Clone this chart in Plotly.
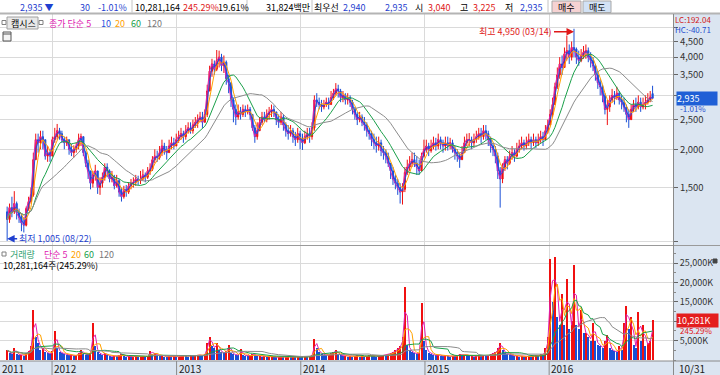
import numpy as np
import pandas as pd
import plotly.graph_objects as go

# ---------------- data (weekly candles) ----------------
first_week = "2011-08-22"

opens = [
    1250, 1180, 1290, 1250, 1330, 1240, 1200, 1150, 1130, 1280,
    1350, 1420, 1850, 2150, 2100, 2200, 2150, 1900, 1950, 1900,
    2150, 2200, 2300, 2250, 2150, 2100, 2150, 2000, 1950, 2000,
    2050, 2150, 2200, 1950, 1800, 1700, 1550, 1650, 1700, 1500,
    1550, 1620, 1750, 1700, 1600, 1620, 1520, 1580, 1450, 1400,
    1480, 1450, 1520, 1550, 1560, 1600, 1580, 1600, 1650, 1620,
    1700, 1720, 1850, 1900, 1880, 1950, 2050, 1980, 1950, 2050,
    2100, 2050, 2150, 2200, 2250, 2200, 2300, 2350, 2300, 2400,
    2450, 2500, 2550, 2450, 2600, 3100, 3600, 3800, 3650, 3900,
    4000, 3750, 3850, 3400, 3300, 2900, 2700, 2550, 2650, 2600,
    2700, 2650, 2700, 2600, 2350, 2200, 2300, 2450, 2550, 2500,
    2600, 2650, 2700, 2650, 2500, 2450, 2550, 2400, 2300, 2250,
    2300, 2200, 2150, 2250, 2150, 2100, 2200, 2250, 2200, 2350,
    2900, 2850, 2800, 2750, 2800, 2850, 2800, 2950, 3050, 3150,
    3100, 2950, 3000, 2900, 2950, 2850, 2700, 2600, 2500, 2550,
    2450, 2400, 2300, 2250, 2150, 2100, 2050, 2100, 1980, 1950,
    1900, 1800, 1700, 1600, 1550, 1500, 1450, 1480, 1680, 1750,
    1800, 1850, 1800, 1750, 1700, 1900, 2000, 2050, 1980, 2050,
    2100, 2050, 2150, 2100, 2050, 2100, 2050, 2100, 2000, 1950,
    1900, 1850, 1950, 2100, 2150, 2150, 2100, 2150, 2200, 2250,
    2200, 2300, 2250, 2150, 2050, 2000, 1900, 1700, 1600, 1750,
    1850, 1800, 1900, 1950, 1900, 2000, 2050, 2100, 2050, 2100,
    2150, 2100, 2150, 2100, 2150, 2200, 2150, 2300, 2400, 2600,
    2800, 3200, 3500, 3800, 3700, 4100, 4200, 4000, 4300, 4250,
    4000, 3900, 4050, 4150, 4200, 4000, 3900, 3750, 3500, 3300,
    3200, 3000, 2700, 2750, 2900, 3000, 2950, 3050, 2900, 2850,
    2750, 2600, 2500, 2700, 2800, 2750, 2850, 2750, 2800, 2850,
    2900, 3040,
]

highs = [
    1300, 1330, 1400, 1460, 1350, 1280, 1230, 1200, 1300, 1400,
    1500, 1950, 2250, 2250, 2300, 2300, 2150, 2050, 2000, 2200,
    2350, 2420, 2350, 2300, 2200, 2200, 2150, 2080, 2060, 2100,
    2250, 2250, 2200, 1980, 1850, 1700, 1700, 1780, 1700, 1620,
    1680, 1800, 1800, 1720, 1700, 1650, 1650, 1600, 1500, 1520,
    1530, 1560, 1600, 1620, 1650, 1640, 1700, 1720, 1680, 1750,
    1800, 1900, 2000, 1980, 2050, 2150, 2100, 2050, 2150, 2200,
    2180, 2250, 2300, 2350, 2300, 2400, 2450, 2450, 2500, 2550,
    2600, 2650, 2650, 2700, 3250, 3750, 3950, 3900, 4220, 4200,
    4100, 4050, 3900, 3500, 3300, 2950, 2800, 2800, 2750, 2800,
    2780, 2800, 2750, 2600, 2400, 2450, 2550, 2650, 2650, 2700,
    2750, 2800, 2780, 2650, 2600, 2650, 2600, 2450, 2400, 2400,
    2350, 2280, 2350, 2300, 2250, 2300, 2350, 2350, 2450, 3000,
    3050, 2950, 2900, 2900, 2950, 2950, 3100, 3150, 3290, 3250,
    3150, 3100, 3050, 3050, 3000, 2900, 2750, 2650, 2650, 2600,
    2550, 2450, 2350, 2300, 2250, 2200, 2200, 2150, 2050, 2000,
    1950, 1800, 1750, 1650, 1600, 1550, 1550, 1750, 1850, 1900,
    1950, 1950, 1900, 1850, 1950, 2150, 2150, 2100, 2150, 2200,
    2180, 2250, 2200, 2150, 2200, 2200, 2180, 2150, 2050, 2000,
    1950, 2050, 2200, 2250, 2260, 2200, 2250, 2300, 2350, 2350,
    2400, 2400, 2300, 2200, 2100, 2050, 1950, 1750, 1800, 1900,
    1900, 1980, 2050, 2000, 2100, 2150, 2200, 2150, 2200, 2250,
    2200, 2250, 2200, 2250, 2300, 2280, 2400, 2500, 2700, 2950,
    3300, 3700, 4000, 4050, 4300, 4700, 4400, 4500, 4950, 4300,
    4200, 4250, 4350, 4400, 4300, 4150, 4000, 3800, 3600, 3400,
    3250, 3050, 2900, 3000, 3150, 3100, 3200, 3100, 3000, 2950,
    2800, 2700, 2800, 2900, 2950, 3000, 2950, 2950, 3000, 3050,
    3100, 3225,
]

lows = [
    1005, 1150, 1200, 1230, 1180, 1150, 1080, 1070, 1120, 1260,
    1330, 1400, 1850, 1950, 2000, 2000, 1850, 1820, 1820, 1900,
    2100, 2150, 2150, 2100, 2000, 2050, 1920, 1900, 1880, 1950,
    2000, 2050, 1900, 1750, 1600, 1480, 1500, 1580, 1430, 1420,
    1500, 1580, 1620, 1560, 1560, 1480, 1500, 1400, 1350, 1380,
    1400, 1430, 1480, 1500, 1520, 1530, 1540, 1580, 1560, 1600,
    1650, 1700, 1800, 1820, 1850, 1900, 1920, 1850, 1950, 2000,
    2000, 2050, 2100, 2150, 2100, 2150, 2250, 2250, 2250, 2350,
    2350, 2450, 2350, 2450, 2550, 3100, 3450, 3500, 3600, 3700,
    3600, 3550, 3250, 3050, 2750, 2450, 2400, 2500, 2500, 2550,
    2550, 2600, 2500, 2300, 2100, 2150, 2300, 2400, 2450, 2450,
    2500, 2550, 2550, 2400, 2350, 2400, 2300, 2200, 2150, 2200,
    2100, 2050, 2100, 2000, 1990, 2080, 2150, 2100, 2150, 2300,
    2750, 2700, 2650, 2700, 2750, 2700, 2800, 2900, 3000, 2950,
    2850, 2850, 2800, 2800, 2750, 2600, 2500, 2400, 2450, 2380,
    2300, 2200, 2150, 2050, 2000, 1950, 1980, 1900, 1850, 1800,
    1750, 1600, 1530, 1480, 1420, 1330, 1320, 1450, 1650, 1700,
    1750, 1750, 1650, 1650, 1700, 1880, 1950, 1900, 1950, 2000,
    1980, 2000, 2000, 1950, 1980, 1980, 2000, 1950, 1850, 1820,
    1740, 1850, 1950, 2050, 2050, 2000, 2050, 2100, 2150, 2100,
    2150, 2150, 2050, 1950, 1900, 1800, 1600, 1290, 1550, 1700,
    1720, 1780, 1850, 1820, 1880, 1950, 2000, 1980, 2000, 2050,
    2000, 2050, 2020, 2050, 2100, 2050, 2150, 2250, 2400, 2550,
    2800, 3150, 3400, 3500, 3700, 3900, 3800, 3900, 4000, 3800,
    3750, 3850, 3950, 3950, 3850, 3700, 3600, 3350, 3150, 3000,
    2850, 2600, 2400, 2650, 2850, 2800, 2900, 2800, 2700, 2650,
    2450, 2350, 2500, 2650, 2650, 2700, 2650, 2700, 2700, 2800,
    2850, 2935,
]

closes = [
    1180, 1290, 1250, 1330, 1240, 1200, 1150, 1130, 1280, 1350,
    1420, 1850, 2150, 2100, 2200, 2150, 1900, 1950, 1900, 2150,
    2200, 2300, 2250, 2150, 2100, 2150, 2000, 1950, 2000, 2050,
    2150, 2200, 1950, 1800, 1700, 1550, 1650, 1700, 1500, 1550,
    1620, 1750, 1700, 1600, 1620, 1520, 1580, 1450, 1400, 1480,
    1450, 1520, 1550, 1560, 1600, 1580, 1600, 1650, 1620, 1700,
    1720, 1850, 1900, 1880, 1950, 2050, 1980, 1950, 2050, 2100,
    2050, 2150, 2200, 2250, 2200, 2300, 2350, 2300, 2400, 2450,
    2500, 2550, 2450, 2600, 3100, 3600, 3800, 3650, 3900, 4000,
    3750, 3850, 3400, 3300, 2900, 2700, 2550, 2650, 2600, 2700,
    2650, 2700, 2600, 2350, 2200, 2300, 2450, 2550, 2500, 2600,
    2650, 2700, 2650, 2500, 2450, 2550, 2400, 2300, 2250, 2300,
    2200, 2150, 2250, 2150, 2100, 2200, 2250, 2200, 2350, 2900,
    2850, 2800, 2750, 2800, 2850, 2800, 2950, 3050, 3150, 3100,
    2950, 3000, 2900, 2950, 2850, 2700, 2600, 2500, 2550, 2450,
    2400, 2300, 2250, 2150, 2100, 2050, 2100, 1980, 1950, 1900,
    1800, 1700, 1600, 1550, 1500, 1450, 1480, 1680, 1750, 1800,
    1850, 1800, 1750, 1700, 1900, 2000, 2050, 1980, 2050, 2100,
    2050, 2150, 2100, 2050, 2100, 2050, 2100, 2000, 1950, 1900,
    1850, 1950, 2100, 2150, 2150, 2100, 2150, 2200, 2250, 2200,
    2300, 2250, 2150, 2050, 2000, 1900, 1700, 1600, 1750, 1850,
    1800, 1900, 1950, 1900, 2000, 2050, 2100, 2050, 2100, 2150,
    2100, 2150, 2100, 2150, 2200, 2150, 2300, 2400, 2600, 2800,
    3200, 3500, 3800, 3700, 4100, 4200, 4000, 4300, 4250, 4000,
    3900, 4050, 4150, 4200, 4000, 3900, 3750, 3500, 3300, 3200,
    3000, 2700, 2750, 2900, 3000, 2950, 3050, 2900, 2850, 2750,
    2600, 2500, 2700, 2800, 2750, 2850, 2750, 2800, 2850, 2900,
    2965, 2935,
]

volumes_k = [
    2500, 1800, 1500, 3000, 1600, 1200, 1400, 1100, 1800, 2200,
    3500, 12800, 6000, 4500, 2500, 3000, 2000, 1800, 1500, 2200,
    7500, 3000, 2000, 1800, 1500, 1400, 1200, 1300, 1100, 1200,
    1800, 2500, 1600, 1400, 1300, 1800, 9500, 3500, 2000, 1500,
    1300, 1800, 1200, 1000, 900, 1100, 1000, 1200, 1500, 1100,
    900, 1000, 800, 900, 1100, 800, 900, 1000, 800, 1000,
    2400, 1500, 1800, 1200, 1000, 1300, 900, 800, 1000, 900,
    1000, 800, 900, 1000, 1200, 1100, 900, 1300, 1000, 1200,
    1400, 1200, 1100, 1500, 4500, 6000, 3500, 3000, 4500, 2500,
    2000, 1800, 2200, 4000, 1800, 1500, 1300, 1200, 2800, 1200,
    1100, 1000, 1200, 1500, 1300, 1000, 1100, 900, 1000, 800,
    900, 1000, 800, 700, 800, 900, 700, 800, 900, 700,
    800, 700, 900, 800, 700, 900, 800, 1000, 1200, 5500,
    3000, 2000, 1500, 1300, 1200, 1400, 1800, 2000, 2500, 1500,
    1200, 1000, 1100, 900, 1000, 900, 1100, 1200, 900, 1000,
    900, 1000, 1200, 1100, 1000, 900, 1000, 1100, 1300, 1200,
    1500, 1800, 2000, 2500, 3000, 3500, 6000, 18800, 4000, 2500,
    2000, 1800, 1500, 1800, 14800, 5000, 2500, 1800, 1500, 1300,
    1200, 1400, 1100, 1000, 1200, 1000, 900, 1100, 1000, 1200,
    1500, 1300, 1400, 1200, 1000, 1100, 900, 1000, 1200, 1100,
    1300, 1000, 1200, 1500, 1800, 2000, 3000, 4500, 2500, 1800,
    1500, 1300, 1200, 1000, 1100, 900, 1000, 800, 900, 1000,
    900, 1000, 1200, 1100, 1500, 1300, 3000, 6000, 26000, 15000,
    26500, 11000, 9000, 17000, 9000, 21000, 8000, 10000, 24500, 9000,
    8000, 13000, 7000, 7000, 6000, 5000, 9500, 5000, 4000, 3500,
    3000, 5000, 6500, 3000, 2500, 2200, 2000, 3500, 2500, 9500,
    14000, 8000, 11000, 4000, 3000, 12500, 5000, 9000, 3500, 4500,
    5000, 10281,
]

price_ma_labels = ["5", "10", "20", "60", "120"]
price_ma_weeks = [1, 2, 4, 12, 24]          # daily windows expressed in weeks
vol_ma_labels = ["5", "20", "60", "120"]
vol_ma_weeks = [2, 4, 12, 24]

year_ticks = ["2012-01-01", "2013-01-01", "2014-01-01", "2015-01-01", "2016-01-01"]
year_labels = ["2012", "2013", "2014", "2015", "2016"]
price_ticks = [1000, 1500, 2000, 2500, 3000, 3500, 4000, 4500, 5000]
price_ticktext = ["", "1,500", "2,000", "2,500", "", "3,500", "4,000", "4,500", ""]
vol_ticks = [5000, 10000, 15000, 20000, 25000]
vol_ticktext = ["5,000K", "", "15,000K", "20,000K", "25,000K"]

# ---------------- styling ----------------
W, H = 720, 375
FONT = "Noto Sans CJK KR, Noto Sans, sans-serif"
RED = "#f01010"
BLUE = "#1a4fd6"
MA_COLORS = {"5": "#e020b0", "10": "#1f4fe0", "20": "#ffa200", "60": "#1aa04a", "120": "#8c8c8c"}
PANEL = "#dbe5f1"
GRID = "#dadada"
XR = 673 / W


def P(x):
    return x / W


def Q(y):
    return 1 - y / H


dates = pd.date_range(first_week, periods=len(closes), freq="7D")
cl = pd.Series(closes, dtype=float)
vol = pd.Series(volumes_k, dtype=float)

fig = go.Figure()

for lab, w in zip(price_ma_labels[:2], price_ma_weeks[:2]):
    fig.add_trace(go.Scatter(x=dates, y=cl.rolling(w, min_periods=1).mean(), mode="lines",
                             line=dict(color=MA_COLORS[lab], width=1), hoverinfo="skip",
                             xaxis="x", yaxis="y"))

fig.add_trace(go.Candlestick(
    x=dates, open=opens, high=highs, low=lows, close=closes,
    increasing=dict(line=dict(color=RED, width=1), fillcolor=RED),
    decreasing=dict(line=dict(color=BLUE, width=1), fillcolor=BLUE),
    whiskerwidth=0, hoverinfo="skip", xaxis="x", yaxis="y"))

for lab, w in zip(price_ma_labels[2:], price_ma_weeks[2:]):
    fig.add_trace(go.Scatter(x=dates, y=cl.rolling(w, min_periods=1).mean(), mode="lines",
                             line=dict(color=MA_COLORS[lab], width=1), hoverinfo="skip",
                             xaxis="x", yaxis="y"))

vol_colors = [RED if (i == 0 or volumes_k[i] >= volumes_k[i - 1]) else BLUE for i in range(len(volumes_k))]
fig.add_trace(go.Bar(x=dates, y=volumes_k, marker=dict(color=vol_colors, line=dict(width=0)),
                     width=3 * 86400000, hoverinfo="skip", xaxis="x2", yaxis="y2"))
for lab, w in zip(vol_ma_labels, vol_ma_weeks):
    fig.add_trace(go.Scatter(x=dates, y=vol.rolling(w, min_periods=1).mean(), mode="lines",
                             line=dict(color=MA_COLORS[lab], width=1), hoverinfo="skip",
                             xaxis="x2", yaxis="y2"))

xcommon = dict(type="date", range=["2011-08-01", "2016-12-30"], domain=[0, XR],
               tickvals=year_ticks, showticklabels=False, ticks="", showgrid=True,
               gridcolor=GRID, gridwidth=1, zeroline=False, showline=False, fixedrange=True)

fig.update_layout(
    width=W, height=H, margin=dict(l=0, r=0, t=0, b=0), autosize=False,
    paper_bgcolor="white", plot_bgcolor="white", showlegend=False,
    font=dict(family=FONT, size=10, color="#333"),
    xaxis=dict(**xcommon, anchor="y", rangeslider=dict(visible=False)),
    xaxis2=dict(**xcommon, anchor="y2", matches="x"),
    yaxis=dict(type="log", range=[2.9885, 3.7429], domain=[Q(245), Q(14)], side="right",
               anchor="x", tickvals=price_ticks, ticktext=price_ticktext, ticks="outside",
               ticklen=4, tickcolor="#666", showline=True, linecolor="#8a8a8a",
               showgrid=True, gridcolor=GRID, zeroline=False,
               tickfont=dict(family=FONT, size=9.5, color="#333"), fixedrange=True),
    yaxis2=dict(range=[0, 29450], domain=[Q(360), Q(246)], side="right", anchor="x2",
                tickvals=vol_ticks, ticktext=vol_ticktext, ticks="outside", ticklen=4,
                tickcolor="#666", showline=True, linecolor="#8a8a8a", showgrid=True,
                gridcolor=GRID, zeroline=False,
                minor=dict(ticks="outside", ticklen=2, dtick=2500, tickcolor="#888", showgrid=False),
                tickfont=dict(family=FONT, size=9, color="#333"), fixedrange=True),
    bargap=0,
)

shapes = []


def rect(x0, y0, x1, y1, fill, line=None, layer="above"):
    shapes.append(dict(type="rect", xref="paper", yref="paper", x0=P(x0), x1=P(x1), y0=Q(y1), y1=Q(y0),
                       fillcolor=fill, line=dict(color=line or fill, width=1 if line else 0), layer=layer))


def hline(y, x0, x1, color, width=1):
    shapes.append(dict(type="line", xref="paper", yref="paper", x0=P(x0), x1=P(x1), y0=Q(y), y1=Q(y),
                       line=dict(color=color, width=width)))


def vline(x, y0, y1, color, width=1):
    shapes.append(dict(type="line", xref="paper", yref="paper", x0=P(x), x1=P(x), y0=Q(y1), y1=Q(y0),
                       line=dict(color=color, width=width)))


rect(673, 14, 720, 361, PANEL, layer="below")
rect(0, 361, 720, 375, PANEL, layer="below")
hline(13.5, 0, 720, "#b4b4b4", 2)
hline(245.5, 0, 720, "#9a9a9a", 1)
hline(361, 0, 720, "#8a8a8a", 1)
vline(673.5, 14, 375, "#8a8a8a", 1)
for sx in [132, 247, 312, 548]:
    vline(sx, 0, 12.5, "#c4c4c4", 1)
rect(552, 1, 581, 12.5, "#f6d2d2", "#a8a8a8")
rect(583, 1, 611, 12.5, "#d2e2f5", "#a8a8a8")
rect(2, 20.5, 6, 24.5, "white", "#808080")
rect(7, 17, 38, 29, "#e8e8e8", "#a0a0a0")
rect(39, 20.5, 43, 24.5, "white", "#808080")
rect(3, 32, 11, 41, "#f4f4f4", "#555555")
hline(34, 3, 11, "#555555", 1)
rect(2, 252, 6, 256, "white", "#808080")
rect(713, 259, 717, 263, "#444444", "#444444")
for d in year_ticks:
    shapes.append(dict(type="line", xref="x", yref="paper", x0=d, x1=d, y0=0, y1=Q(361),
                       line=dict(color="#8a8a8a", width=1)))
fig.update_layout(shapes=shapes)

ann = []


def text(x, y, s, color="#000", size=9, xanchor="left", **kw):
    ann.append(dict(xref="paper", yref="paper", x=P(x), y=Q(y), text=s, showarrow=False,
                    xanchor=xanchor, yanchor="middle", borderpad=0,
                    font=dict(family=FONT, size=size, color=color), **kw))


HB = "#1f3fcf"
HR = "#e01818"
text(19, 7, "2,935 ▼", HB)
text(79, 7, "30", HB)
text(97, 7, "-1.01%", HB)
text(134, 7, "10,281,164", "#000")
text(182, 7, "245.29%", HR)
text(217, 7, "19.61%", "#000")
text(265, 7, "31,824백만", "#000")
text(313, 7, "최우선", "#000")
text(342, 7, "2,940", HB)
text(384, 7, "2,935", HB)
text(414, 7, "시", "#000")
text(427, 7, "3,040", HR)
text(459, 7, "고", "#000")
text(472, 7, "3,225", HR)
text(504, 7, "저", "#000")
text(519, 7, "2,935", HB)
text(566.5, 7, "매수", "#000", xanchor="center")
text(597, 7, "매도", "#000", xanchor="center")
# price legend
text(10, 23, "캠시스", "#000")
text(48, 23, "종가 단순 5", MA_COLORS["5"])
text(100, 23, "10", MA_COLORS["10"])
text(114, 23, "20", MA_COLORS["20"])
text(130, 23, "60", MA_COLORS["60"])
text(146, 23, "120", "#777")
# LC / HC
text(674, 19.5, "LC:192.04", "#d01818", size=8)
text(674, 29, "HC:-40.71", "#1f4fcf", size=8)
# volume legend
text(9, 254, "거래량", "#2f9f6f")
text(43, 254, "단순 5", MA_COLORS["5"])
text(70, 254, "20", MA_COLORS["20"])
text(83, 254, "60", MA_COLORS["60"])
text(98, 254, "120", "#777")
text(2, 265, "10,281,164주(245.29%)", "#000")
# bottom strip labels
text(1, 368, "2011", "#222", size=10)
for d, lab in zip(year_ticks, year_labels):
    ann.append(dict(xref="x", yref="paper", x=d, y=Q(368), text=lab, showarrow=False,
                    xanchor="left", yanchor="middle", xshift=1, borderpad=0,
                    font=dict(family=FONT, size=10, color="#222")))
text(678, 368, "10/31", "#222", size=10)

last_close = closes[-1]
ann.append(dict(xref="paper", yref="y", x=P(676), y=np.log10(last_close), text=f"{last_close:,}",
                showarrow=False, xanchor="left", yanchor="middle", bgcolor="#1f5fd6",
                width=40, align="left", borderpad=0,
                font=dict(family=FONT, size=9, color="white")))
ann.append(dict(xref="paper", yref="y", x=P(679), y=np.log10(last_close), yshift=-10.5, text="-1.01%",
                showarrow=False, xanchor="left", yanchor="middle", borderpad=0,
                font=dict(family=FONT, size=8, color="#1f4fcf")))
last_vol = volumes_k[-1]
ann.append(dict(xref="paper", yref="y2", x=P(676), y=last_vol, text=f"{last_vol:,}K",
                showarrow=False, xanchor="left", yanchor="middle", bgcolor="#e41e1e",
                width=41, align="left", borderpad=0,
                font=dict(family=FONT, size=9, color="white")))
ann.append(dict(xref="paper", yref="y2", x=P(679), y=last_vol, yshift=-10, text="245.29%",
                showarrow=False, xanchor="left", yanchor="middle", borderpad=0,
                font=dict(family=FONT, size=8, color="#e01818")))

imax = int(np.argmax(highs))
imin = int(np.argmin(lows))
ann.append(dict(xref="x", yref="y", x=dates[imax], y=np.log10(highs[imax]), yshift=-3,
                text=f"최고 {highs[imax]:,} ({dates[imax]:%m/%d})",
                showarrow=True, ax=-58, ay=0, arrowhead=2, arrowsize=1, arrowwidth=1.5,
                arrowcolor="#e01818", font=dict(family=FONT, size=9, color="#e01818")))
ann.append(dict(xref="x", yref="y", x=dates[imin], y=np.log10(lows[imin]), yshift=2,
                text=f"최저 {lows[imin]:,} ({dates[imin]:%m/%d})",
                showarrow=True, ax=48, ay=0, arrowhead=2, arrowsize=1, arrowwidth=1.5,
                arrowcolor="#1f3fcf", font=dict(family=FONT, size=9, color="#1f3fcf")))

fig.update_layout(annotations=ann)
fig.write_html("out.html", config={"displayModeBar": False})
